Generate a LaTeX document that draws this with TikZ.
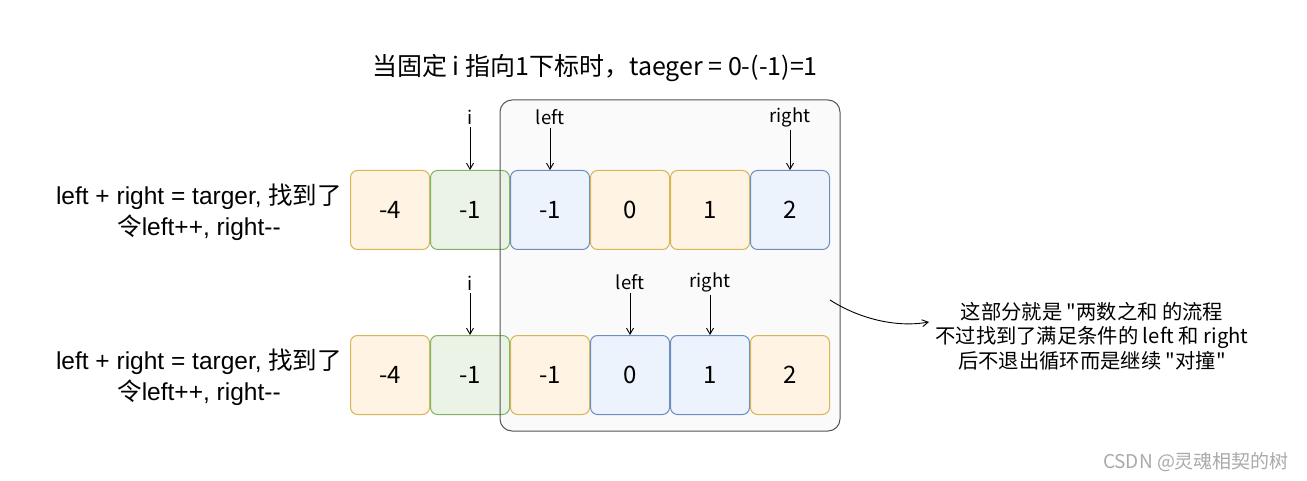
\documentclass[tikz,border=0pt]{standalone}
\usepackage{fontspec}
\newfontfamily\cjk{Noto Sans CJK SC}
\newfontfamily\lat{Liberation Sans}
\usetikzlibrary{arrows.meta}
\definecolor{ystroke}{HTML}{D6B656}
\definecolor{yfill}{HTML}{FFF3E3}
\definecolor{gstroke}{HTML}{82B366}
\definecolor{gfill}{HTML}{EAF3E6}
\definecolor{bstroke}{HTML}{6C8EBF}
\definecolor{bfill}{HTML}{EDF3FC}
\definecolor{framec}{HTML}{555555}
\definecolor{framefill}{HTML}{FAFAFA}
\definecolor{wmark}{HTML}{AAAAAA}
\begin{document}
\begin{tikzpicture}[x=1pt,y=-1pt,
  cell/.style={draw, line width=1pt, rounded corners=7pt, minimum width=79pt, minimum height=79pt, inner sep=0pt, font=\cjk\fontsize{24}{28}\selectfont},
  ycell/.style={cell, draw=ystroke, fill=yfill},
  gcell/.style={cell, draw=gstroke, fill=gfill},
  bcell/.style={cell, draw=bstroke, fill=bfill},
  lbl/.style={font=\cjk\fontsize{18.5}{20}\selectfont, inner sep=1pt},
  ptr/.style={-{Straight Barb[length=6pt,width=7pt]}, line width=0.9pt},
  sidetext/.style={align=center, font=\lat\fontsize{24.5}{31}\selectfont},
  note/.style={align=center, font=\cjk\fontsize{20.3}{24.5}\selectfont}
]
\useasboundingbox (0,0) rectangle (1307,481);
\fill[white] (0,0) rectangle (1307,481);

% frame background
\fill[framefill, rounded corners=12pt] (500,100) rectangle (840,431);

% title
\node[font=\cjk\fontsize{25}{28}\selectfont] (title) at (595,68) {当固定 i 指向1下标时，taeger = 0-(-1)=1};

% side texts
\node[sidetext] (s1) at (199,212) {left + right = targer, {\cjk 找到了}\\{\cjk 令}left++, right--};
\node[sidetext] (s2) at (199,377) {left + right = targer, {\cjk 找到了}\\{\cjk 令}left++, right--};

% top row
\node[ycell] (a1) at (390,210) {-4};
\node[gcell] (a2) at (470,210) {-1};
\node[bcell] (a3) at (550,210) {-1};
\node[ycell] (a4) at (630,210) {0};
\node[ycell] (a5) at (710,210) {1};
\node[bcell] (a6) at (790,210) {2};

% bottom row
\node[ycell] (b1) at (390,375) {-4};
\node[gcell] (b2) at (470,375) {-1};
\node[ycell] (b3) at (550,375) {-1};
\node[bcell] (b4) at (630,375) {0};
\node[bcell] (b5) at (710,375) {1};
\node[ycell] (b6) at (790,375) {2};

% frame border
\draw[framec, line width=1pt, rounded corners=12pt] (500,100) rectangle (840,431);

% top labels
\node[lbl] (ti) at (470,117) {i};
\node[lbl] (tl) at (550,117) {left};
\node[lbl] (tr) at (790,117) {right};
\draw[ptr] (ti.south) ++(0,2) -- (a2.north);
\draw[ptr] (tl.south) ++(0,2) -- (a3.north);
\draw[ptr] (tr.south) ++(0,2) -- (a6.north);

% bottom labels
\node[lbl] (bi) at (470,283) {i};
\node[lbl] (bl) at (630,282) {left};
\node[lbl] (br) at (710,282) {right};
\draw[ptr] (bi.south) ++(0,2) -- (b2.north);
\draw[ptr] (bl.south) ++(0,2) -- (b4.north);
\draw[ptr] (br.south) ++(0,2) -- (b5.north);

% note
\node[note] (n) at (1092,336) {这部分就是 "两数之和 的流程\\不过找到了满足条件的 left 和 right\\后不退出循环而是继续 "对撞"};
\coordinate (cs) at (830,300);
\coordinate (ce) at (929,322);
\draw[ptr] (cs) .. controls (858,318) and (895,328) .. (ce);

% watermark
\node[font=\cjk\fontsize{19}{22}\selectfont, text=wmark] (wm) at (1196,462) {CSDN @灵魂相契的树};
\end{tikzpicture}
\end{document}
